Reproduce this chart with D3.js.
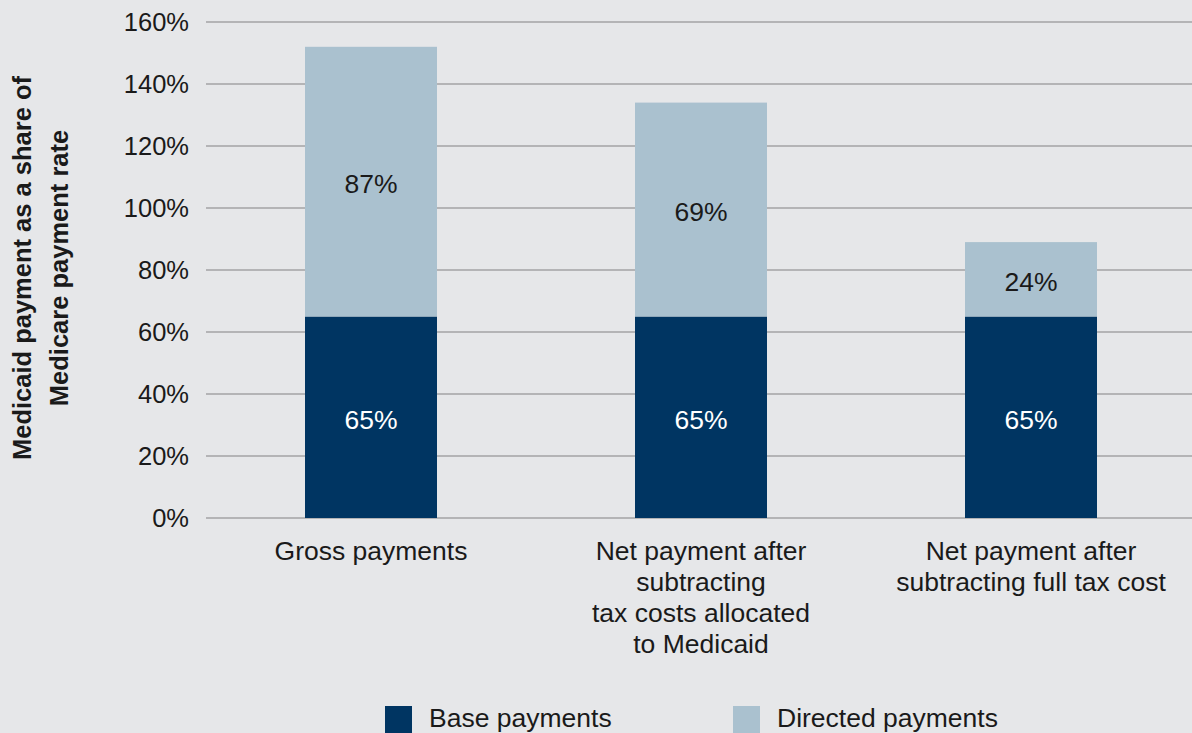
<!DOCTYPE html>
<html>
<head>
<meta charset="utf-8">
<script src="https://cdn.jsdelivr.net/npm/d3@7"></script>
<style>
  body { margin: 0; background: #e6e7e9; }
  svg { display: block; font-family: "Liberation Sans", Arial, sans-serif; }
</style>
</head>
<body>
<svg></svg>
<script>
var categories = [
  ["Gross payments"],
  ["Net payment after", "subtracting", "tax costs allocated", "to Medicaid"],
  ["Net payment after", "subtracting full tax cost"]
];
var basePayments = [65, 65, 65];
var directedPayments = [87, 69, 24];
var yTicks = [0, 20, 40, 60, 80, 100, 120, 140, 160];
var seriesNames = ["Base payments", "Directed payments"];
var colors = ["#003562", "#aac1cf"];

var width = 1192, height = 733;
var tickSize = 25.5, labelSize = 26.5;
var svg = d3.select("svg").attr("width", width).attr("height", height);

svg.append("rect").attr("width", width).attr("height", height).attr("fill", "#e6e7e9");

var margin = { left: 206, top: 22, bottom: 215 };

var x = d3.scaleBand()
    .domain(d3.range(categories.length))
    .range([margin.left, 1196])
    .paddingInner(0.6)
    .paddingOuter(0.3);

var y = d3.scaleLinear()
    .domain([0, 160])
    .range([height - margin.bottom, margin.top]);

// gridlines
svg.append("g")
    .selectAll("line")
    .data(yTicks)
    .enter().append("line")
    .attr("x1", margin.left)
    .attr("x2", width)
    .attr("y1", function(d) { return y(d); })
    .attr("y2", function(d) { return y(d); })
    .attr("stroke", "#a3a3a5")
    .attr("stroke-width", 1.3);

// y tick labels
svg.append("g")
    .selectAll("text")
    .data(yTicks)
    .enter().append("text")
    .attr("x", 189)
    .attr("y", function(d) { return y(d); })
    .attr("dy", "0.35em")
    .attr("text-anchor", "end")
    .attr("font-size", tickSize)
    .attr("fill", "#1a1a1a")
    .text(function(d) { return d + "%"; });

// y axis title
var yTitle = svg.append("text")
    .attr("transform", "translate(41,268) rotate(-90)")
    .attr("text-anchor", "middle")
    .attr("font-size", 25.5)
    .attr("font-weight", "bold")
    .attr("fill", "#1a1a1a");
yTitle.append("tspan").attr("x", 0).attr("dy", "-0.38em").text("Medicaid payment as a share of");
yTitle.append("tspan").attr("x", 0).attr("dy", 37).text("Medicare payment rate");

// stacked bars
var rows = categories.map(function(c, i) {
  return { i: i, base: basePayments[i], directed: directedPayments[i] };
});
var stack = d3.stack().keys(["base", "directed"])(rows);

var layers = svg.append("g")
    .selectAll("g")
    .data(stack)
    .enter().append("g")
    .attr("fill", function(d, i) { return colors[i]; });

layers.selectAll("rect")
    .data(function(d) { return d; })
    .enter().append("rect")
    .attr("x", function(d) { return x(d.data.i); })
    .attr("width", x.bandwidth())
    .attr("y", function(d) { return y(d[1]); })
    .attr("height", function(d) { return y(d[0]) - y(d[1]); });

// value labels
stack.forEach(function(layer, li) {
  svg.append("g")
      .selectAll("text")
      .data(layer)
      .enter().append("text")
      .attr("x", function(d) { return x(d.data.i) + x.bandwidth() / 2; })
      .attr("y", function(d) { return y((d[0] + d[1]) / 2) + 2; })
      .attr("dy", "0.35em")
      .attr("text-anchor", "middle")
      .attr("font-size", labelSize)
      .attr("fill", li === 0 ? "#ffffff" : "#1a1a1a")
      .text(function(d) { return (d[1] - d[0]) + "%"; });
});

// category labels
var catLabels = svg.append("g")
    .selectAll("text")
    .data(categories)
    .enter().append("text")
    .attr("x", function(d, i) { return x(i) + x.bandwidth() / 2; })
    .attr("y", 560)
    .attr("text-anchor", "middle")
    .attr("font-size", labelSize)
    .attr("fill", "#1a1a1a");

catLabels.selectAll("tspan")
    .data(function(d) { return d; })
    .enter().append("tspan")
    .attr("x", function() { return this.parentNode.getAttribute("x"); })
    .attr("dy", function(d, i) { return i === 0 ? 0 : 31; })
    .text(function(d) { return d; });

// legend
var legendX = [385, 733];
var legend = svg.append("g")
    .selectAll("g")
    .data(seriesNames)
    .enter().append("g")
    .attr("transform", function(d, i) { return "translate(" + legendX[i] + ",706)"; });

legend.append("rect")
    .attr("width", 27)
    .attr("height", 27)
    .attr("fill", function(d, i) { return colors[i]; });

legend.append("text")
    .attr("x", 44)
    .attr("y", 12)
    .attr("dy", "0.35em")
    .attr("font-size", labelSize)
    .attr("fill", "#1a1a1a")
    .text(function(d) { return d; });
</script>
</body>
</html>
